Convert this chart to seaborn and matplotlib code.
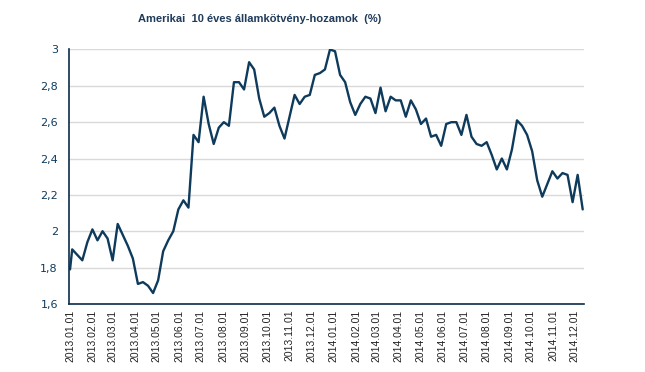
import pandas as pd
import matplotlib
matplotlib.use("Agg")
import matplotlib.pyplot as plt
import matplotlib.dates as mdates
from matplotlib.ticker import FuncFormatter
import seaborn as sns

# --- DATA (weekly 10y US Treasury yields) ---
TITLE = "Amerikai  10 éves államkötvény-hozamok  (%)"
FIRST_DATE = "2013-01-01"
FRIDAYS_START = "2013-01-04"
FRIDAYS_END = "2014-12-12"
FIRST_VALUE = [1.79]
WEEKLY_VALUES = [
    1.90, 1.87, 1.84, 1.94, 2.01, 1.95, 2.00, 1.96, 1.84, 2.04,
    1.98, 1.92, 1.85, 1.71, 1.72, 1.70, 1.66, 1.73, 1.89, 1.95,
    2.00, 2.12, 2.17, 2.13, 2.53, 2.49, 2.74, 2.59, 2.48, 2.57,
    2.60, 2.58, 2.82, 2.82, 2.78, 2.93, 2.89, 2.73, 2.63, 2.65,
    2.68, 2.58, 2.51, 2.63, 2.75, 2.70, 2.74, 2.75, 2.86, 2.87,
    2.89, 3.00, 2.99, 2.86, 2.82, 2.71, 2.64, 2.70, 2.74, 2.73,
    2.65, 2.79, 2.66, 2.74, 2.72, 2.72, 2.63, 2.72, 2.67, 2.59,
    2.62, 2.52, 2.53, 2.47, 2.59, 2.60, 2.60, 2.53, 2.64, 2.52,
    2.48, 2.47, 2.49, 2.42, 2.34, 2.40, 2.34, 2.45, 2.61, 2.58,
    2.53, 2.44, 2.28, 2.19, 2.26, 2.33, 2.29, 2.32, 2.31, 2.16,
    2.31, 2.12,
]
Y_TICKS = [1.6, 1.8, 2.0, 2.2, 2.4, 2.6, 2.8, 3.0]

NAVY = "#0e3a5c"
AXIS = "#0b2e4a"
GRID = "#d9d9d9"

dates = [pd.Timestamp(FIRST_DATE)] + list(
    pd.date_range(FRIDAYS_START, FRIDAYS_END, freq="W-FRI"))
df = pd.DataFrame({"date": dates, "yield": FIRST_VALUE + WEEKLY_VALUES})

sns.set_style("white")
fig = plt.figure(figsize=(6.45, 3.72), dpi=100)
ax = fig.add_axes([0.107, 0.183, 0.798, 0.684])

sns.lineplot(data=df, x="date", y="yield", color=NAVY, linewidth=1.7, ax=ax)

ax.set_ylim(1.6, 3.0)
ax.set_yticks(Y_TICKS)
ax.yaxis.set_major_formatter(
    FuncFormatter(lambda v, _: f"{v:g}".replace(".", ",")))
ax.set_xlim(pd.Timestamp("2012-12-30 14:00"), pd.Timestamp("2014-12-13 10:00"))
ax.xaxis.set_major_locator(mdates.MonthLocator())
ax.xaxis.set_major_formatter(mdates.DateFormatter("%Y.%m.%d"))

ax.grid(axis="y", color=GRID, linewidth=1)
ax.set_axisbelow(True)
for side in ["top", "right"]:
    ax.spines[side].set_visible(False)
for side in ["left", "bottom"]:
    ax.spines[side].set_color(AXIS)
    ax.spines[side].set_linewidth(1.2)

ax.tick_params(axis="y", length=0, pad=8, labelsize=8, labelcolor=NAVY)
ax.tick_params(axis="x", length=0, pad=4, labelsize=7.5, labelcolor="#222222",
               labelrotation=90)
for lbl in ax.get_xticklabels():
    lbl.set_family("Liberation Sans")
ax.set_xlabel("")
ax.set_ylabel("")

fig.text(0.403, 0.948, TITLE, ha="center", va="center", fontsize=8,
         fontweight="bold", color="#1f3b5a",
         family=["Liberation Sans Narrow", "Liberation Sans"])

fig.savefig("out.png", dpi=100)
